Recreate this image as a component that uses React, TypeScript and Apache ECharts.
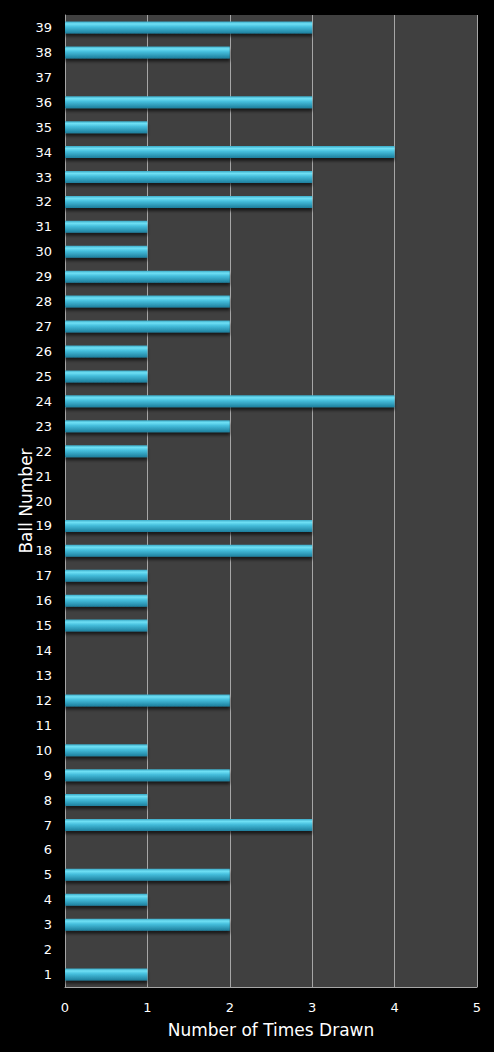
import { useEffect, useRef } from "react";
import * as echarts from "echarts";

const ballNumbers = [
  "1", "2", "3", "4", "5", "6", "7", "8", "9", "10",
  "11", "12", "13", "14", "15", "16", "17", "18", "19", "20",
  "21", "22", "23", "24", "25", "26", "27", "28", "29", "30",
  "31", "32", "33", "34", "35", "36", "37", "38", "39",
];

const timesDrawn = [
  1, 0, 2, 1, 2, 0, 3, 1, 2, 1,
  0, 2, 0, 0, 1, 1, 1, 3, 3, 0,
  0, 1, 2, 4, 1, 1, 2, 2, 2, 1,
  1, 3, 3, 4, 1, 3, 0, 2, 3,
];

const font = "Verdana, 'DejaVu Sans', sans-serif";

export default function App() {
  const chartRef = useRef<HTMLDivElement>(null);

  useEffect(() => {
    if (!chartRef.current) return;
    const chart = echarts.init(chartRef.current, null, { renderer: "svg" });

    chart.setOption({
      backgroundColor: "#000000",
      animation: false,
      grid: {
        left: 65,
        right: 17,
        top: 15,
        bottom: 65,
        show: true,
        backgroundColor: "#404040",
        borderWidth: 0,
      },
      xAxis: {
        type: "value",
        min: 0,
        max: 5,
        interval: 1,
        name: "Number of Times Drawn",
        nameLocation: "middle",
        nameGap: 34,
        nameMoveOverlap: false,
        nameTextStyle: { color: "#ffffff", fontSize: 17, fontFamily: font },
        axisLine: { show: true, lineStyle: { color: "#a6a6a6", width: 1 } },
        axisTick: { show: false },
        axisLabel: { color: "#ffffff", fontSize: 13, fontFamily: font, margin: 14 },
        splitLine: { show: true, lineStyle: { color: "#a6a6a6", width: 1 } },
      },
      yAxis: {
        type: "category",
        data: ballNumbers,
        name: "Ball Number",
        nameLocation: "middle",
        nameGap: 31,
        nameMoveOverlap: false,
        nameRotate: 90,
        nameTextStyle: { color: "#ffffff", fontSize: 17, fontFamily: font },
        axisLine: { show: true, lineStyle: { color: "#a6a6a6", width: 1 } },
        axisTick: { show: false },
        axisLabel: { color: "#ffffff", fontSize: 13, fontFamily: font, margin: 13, interval: 0 },
        splitLine: { show: false },
      },
      series: [
        {
          type: "bar",
          data: timesDrawn,
          barWidth: 12,
          itemStyle: {
            color: new echarts.graphic.LinearGradient(0, 0, 0, 1, [
              { offset: 0, color: "#3aa9c6" },
              { offset: 0.2, color: "#6fe0f5" },
              { offset: 0.45, color: "#45bedc" },
              { offset: 1, color: "#1d7e9c" },
            ]),
            shadowColor: "rgba(0,0,0,0.6)",
            shadowBlur: 3,
            shadowOffsetY: 3,
          },
        },
      ],
    });

    return () => chart.dispose();
  }, []);

  return (
    <div
      ref={chartRef}
      style={{ position: "absolute", left: 0, top: 0, width: 494, height: 1052 }}
    />
  );
}
